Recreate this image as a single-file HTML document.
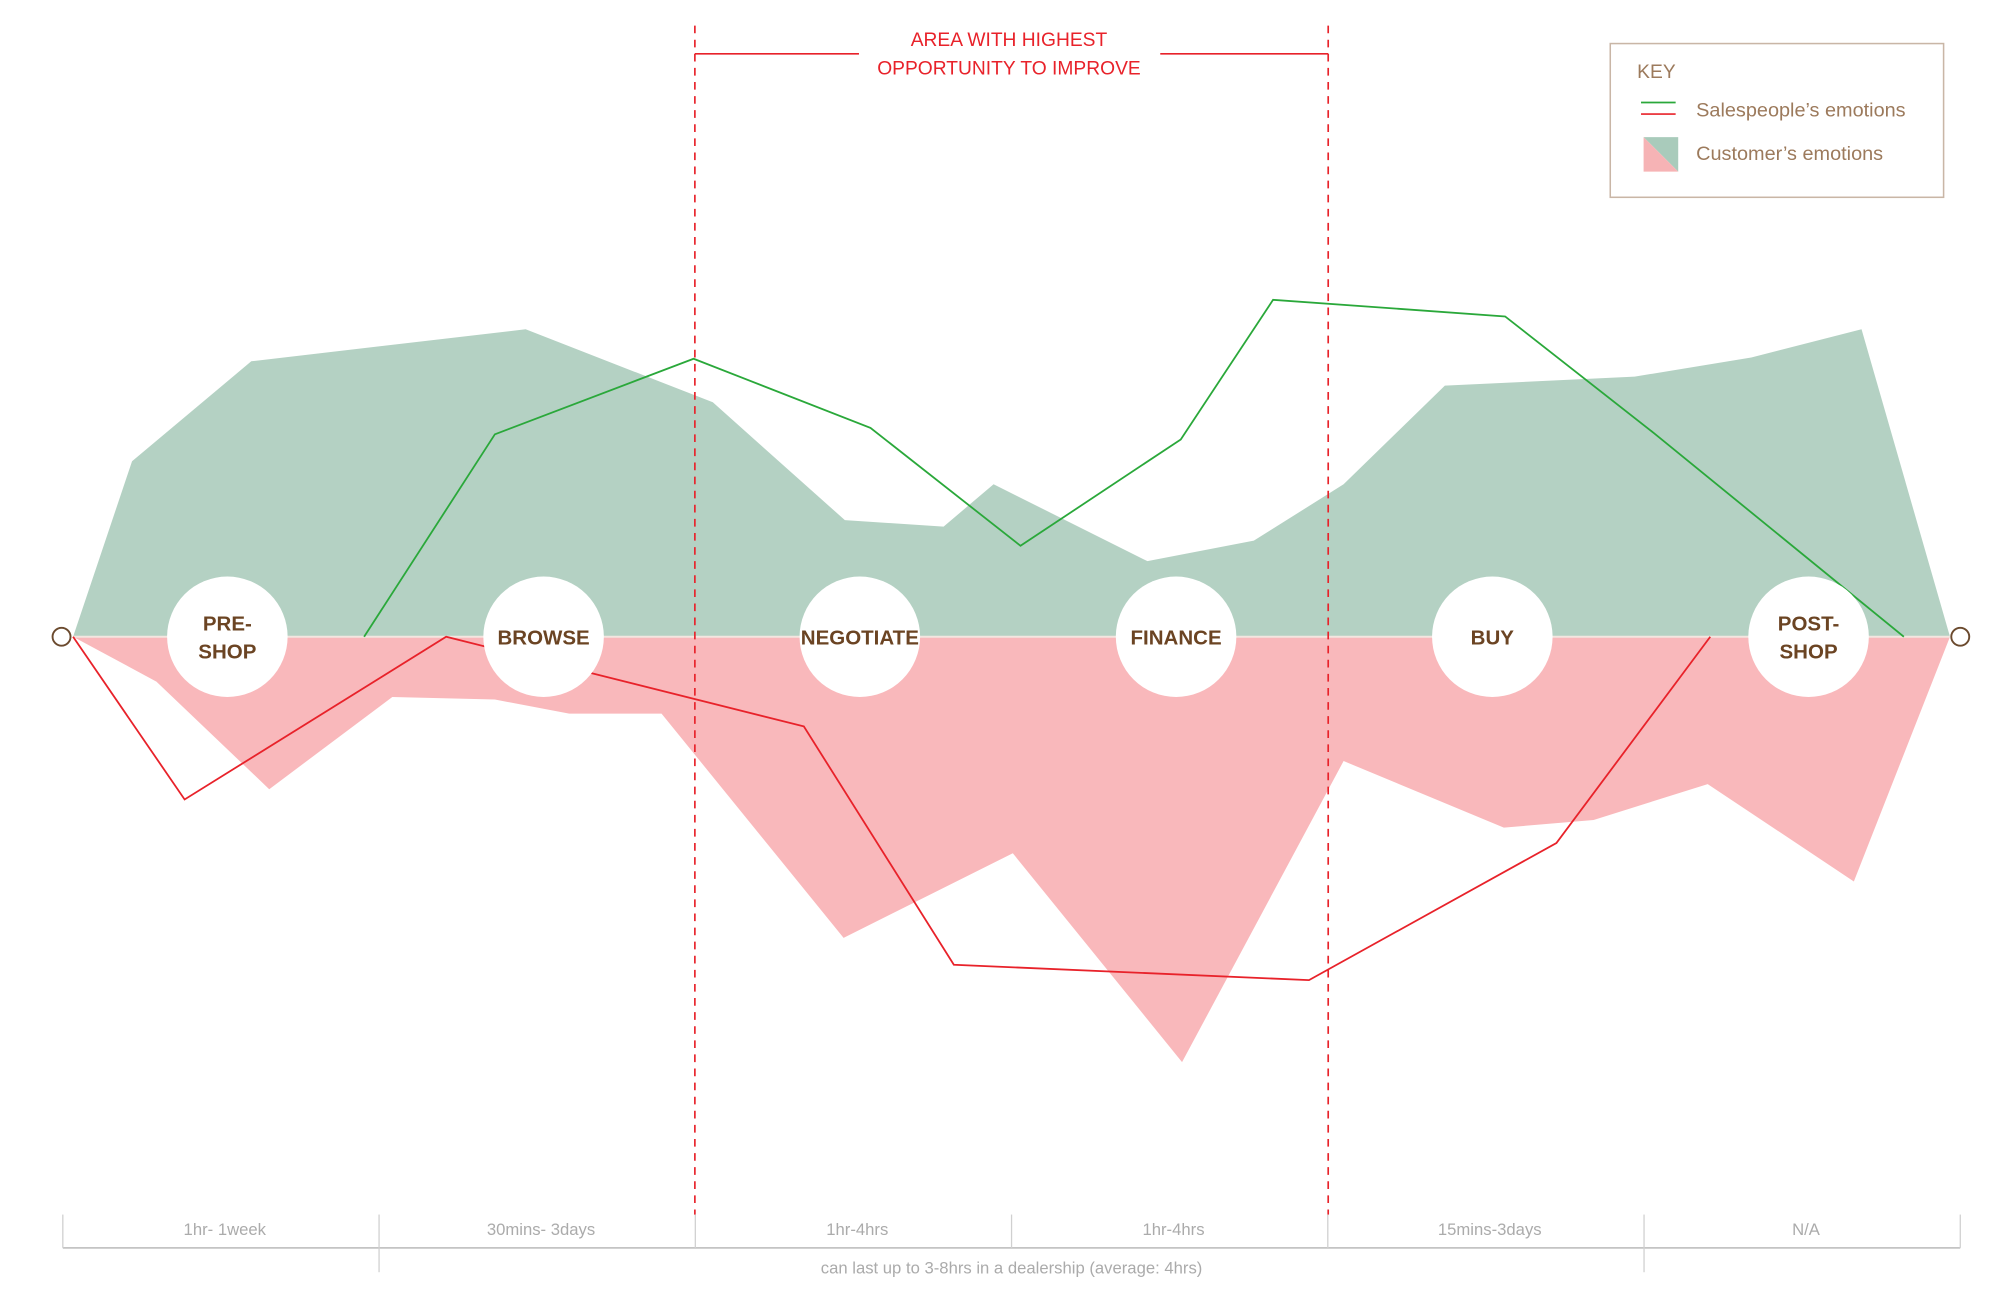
<!DOCTYPE html>
<html><head><meta charset="utf-8"><style>
html,body{margin:0;padding:0;background:#fff}
svg{display:block}
text{font-family:"Liberation Sans",sans-serif}
</style></head><body>
<svg id="chart" width="2000" height="1294" viewBox="0 0 1560 1010" preserveAspectRatio="none" xmlns="http://www.w3.org/2000/svg">
<g id="areas"></g>
<line x1="57" y1="497" x2="1521" y2="497" stroke="#f3e6e0" stroke-width="1.5"/>
<g id="lines"></g>
<g id="stages"></g>
<circle cx="48" cy="497" r="7" fill="#fff" stroke="#6b4a2e" stroke-width="1.5"/>
<circle cx="1529" cy="497" r="7" fill="#fff" stroke="#6b4a2e" stroke-width="1.5"/>
<g stroke="#e8222a" stroke-width="1.3" fill="none">
<line x1="542" y1="20" x2="542" y2="948" stroke-dasharray="6,5"/>
<line x1="1036" y1="20" x2="1036" y2="948" stroke-dasharray="6,5"/>
<line x1="542" y1="42" x2="670" y2="42"/>
<line x1="905" y1="42" x2="1036" y2="42"/>
</g>
<text x="787" y="36" text-anchor="middle" font-size="15" fill="#e8222a">AREA WITH HIGHEST</text>
<text x="787" y="58" text-anchor="middle" font-size="15" fill="#e8222a">OPPORTUNITY TO IMPROVE</text>
<g>
<rect x="1256" y="34" width="260" height="120" fill="#fff" stroke="#c9b6a6" stroke-width="1.2"/>
<text x="1277" y="61" font-size="15" fill="#9c7a5c">KEY</text>
<line x1="1280" y1="80" x2="1307" y2="80" stroke="#2aa83a" stroke-width="1.3"/>
<line x1="1280" y1="89" x2="1307" y2="89" stroke="#e8222a" stroke-width="1.3"/>
<text x="1323" y="91" font-size="15.5" fill="#9c7a5c">Salespeople’s emotions</text>
<polygon points="1282,107 1309,107 1309,134" fill="#a9cbbb"/>
<polygon points="1282,107 1309,134 1282,134" fill="#f6b3b5"/>
<text x="1323" y="125" font-size="15.5" fill="#9c7a5c">Customer’s emotions</text>
</g>
<g id="timeline"></g>
</svg>
<script>
const NS="http://www.w3.org/2000/svg";
// data
const posIdx=[57,103,196,410,556,659,736,775,895,978,1048,1127,1275,1366,1452,1521];
const posVals=[0,137,215,240,183,91,86,119,59,75,119,196,203,218,240,0];
const negX=[57,122,210,306,386,444,516,658,790,922,1048,1173,1243,1332,1446,1521];
const negVals=[0,-35,-119,-47,-49,-60,-60,-235,-169,-332,-97,-149,-143,-115,-191,0];
const greenX=[284,386,541,679,796,921,993,1174,1290,1485];
const greenVals=[0,158,217,163,71,154,263,250,159,0];
const redX=[57,144,348,627,744,1021,1214,1334];
const redVals=[0,-127,0,-70,-256,-268,-161,0];
const stages=["PRE-|SHOP","BROWSE","NEGOTIATE","FINANCE","BUY","POST-|SHOP"];
const durations=["1hr- 1week","30mins- 3days","1hr-4hrs","1hr-4hrs","15mins-3days","N/A"];
// axes
const Y0=497;
function y(v){return Y0-v;}
function pts(xs,vs){return xs.map((x,i)=>x+","+y(vs[i])).join(" ");}
const areas=document.getElementById("areas");
let p=document.createElementNS(NS,"polygon");


p.setAttribute("points",pts(posIdx,posVals));p.setAttribute("fill","#b4d1c3");areas.appendChild(p);
p=document.createElementNS(NS,"polygon");


p.setAttribute("points",pts(negX,negVals));p.setAttribute("fill","#f9b8bb");areas.appendChild(p);
const lines=document.getElementById("lines");
let l=document.createElementNS(NS,"polyline");


l.setAttribute("points",pts(greenX,greenVals));l.setAttribute("fill","none");l.setAttribute("stroke","#2aa83a");l.setAttribute("stroke-width","1.4");lines.appendChild(l);
l=document.createElementNS(NS,"polyline");


l.setAttribute("points",pts(redX,redVals));l.setAttribute("fill","none");l.setAttribute("stroke","#e8222a");l.setAttribute("stroke-width","1.4");lines.appendChild(l);
const sg=document.getElementById("stages");
const x0=49,seg=246.67;
stages.forEach((s,i)=>{
  const cx=x0+seg*(i+0.5)+5;
  const c=document.createElementNS(NS,"circle");
  
  
  c.setAttribute("cx",cx);c.setAttribute("cy",Y0);c.setAttribute("r",47);c.setAttribute("fill","#fff");sg.appendChild(c);
  const parts=s.split("|");
  parts.forEach((t,j)=>{
    const tx=document.createElementNS(NS,"text");
    
    
    tx.setAttribute("x",cx);tx.setAttribute("y",Y0+6+(parts.length>1?(j?11:-11):0));
    tx.setAttribute("text-anchor","middle");tx.setAttribute("font-size","16");tx.setAttribute("font-weight","bold");tx.setAttribute("fill","#6b4423");
    tx.textContent=t;sg.appendChild(tx);
  });
});
const tl=document.getElementById("timeline");
function mk(tag,attrs,name){const e=document.createElementNS(NS,tag);for(const k in attrs)e.setAttribute(k,attrs[k]);tl.appendChild(e);return e;}
let a=mk("line",{x1:49,y1:974,x2:1529,y2:974,stroke:"#c4c4c4","stroke-width":1.3});


for(let i=0;i<=6;i++){
  const x=x0+seg*i;const long=(i===1||i===5);
  const t=mk("line",{x1:x,y1:948,x2:x,y2:long?993:974,stroke:"#d0d0d0","stroke-width":1});
  
  
}
durations.forEach((d,i)=>{
  const t=mk("text",{x:x0+seg*(i+0.5)+3,y:964,"text-anchor":"middle","font-size":13,fill:"#ababab"});
  
  
  t.textContent=d;
});
const bt=mk("text",{x:789,y:994,"text-anchor":"middle","font-size":13,fill:"#ababab"});


bt.textContent="can last up to 3-8hrs in a dealership (average: 4hrs)";
</script>
</body></html>
